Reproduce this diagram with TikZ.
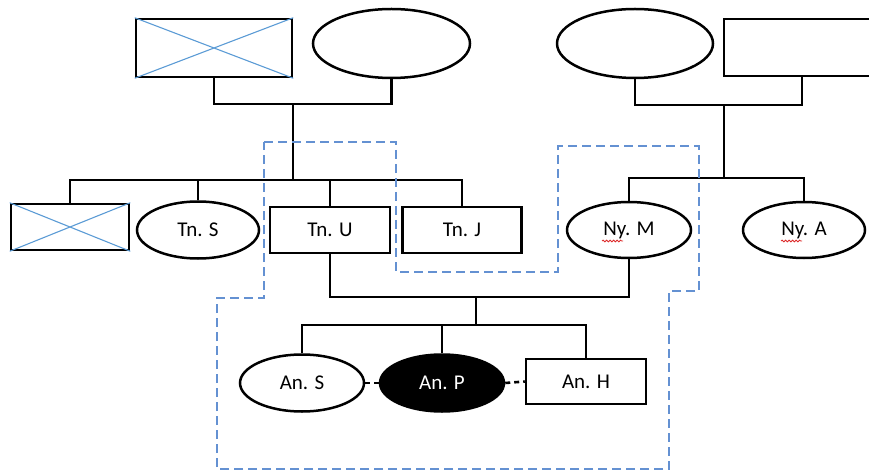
\documentclass[tikz,border=0pt]{standalone}
\usepackage{fontspec}
\setmainfont{Carlito}
\usetikzlibrary{shapes.geometric,calc,decorations.pathmorphing}
\definecolor{crossblue}{RGB}{91,155,213}
\definecolor{boundblue}{RGB}{100,145,210}
\definecolor{spellred}{RGB}{220,40,40}
\tikzset{
  person/.style={draw=black, line width=2.5pt, inner sep=0pt, font=\fontsize{21}{24}\selectfont, text=black},
  male/.style={person, rectangle},
  female/.style={person, ellipse},
  link/.style={draw=black, line width=2.6pt},
  twin/.style={draw=black, line width=2.6pt, dash pattern=on 5pt off 4pt},
  crossline/.style={draw=crossblue, line width=1.1pt},
  boundary/.style={draw=boundblue, line width=1.4pt, dash pattern=on 9pt off 5pt},
  spell/.style={draw=spellred, line width=0.8pt, decorate, decoration={snake, segment length=3.5pt, amplitude=0.9pt}}
}
\begin{document}
\begin{tikzpicture}[x=1pt, y=-1pt]
\useasboundingbox (0,0) rectangle (869,470);
\clip (0,0) rectangle (869,470);

% generation I
\node[male, minimum width=156pt, minimum height=58pt] (gf) at (214,48) {};
\node[female, minimum width=157pt, minimum height=69pt] (gm) at (391.5,43.5) {};
\node[female, minimum width=156pt, minimum height=69pt] (nm) at (635,43.5) {};
\node[male, minimum width=156pt, minimum height=57pt] (nf) at (802,47.5) {};
\draw[crossline] (gf.north west) -- (gf.south east) (gf.south west) -- (gf.north east);

% generation II
\node[male, minimum width=118pt, minimum height=46pt] (c1) at (70,227) {};
\draw[crossline] (c1.north west) -- (c1.south east) (c1.south west) -- (c1.north east);
\node[female, minimum width=122pt, minimum height=57pt] (TnS) at (198,230) {Tn. S};
\node[male, minimum width=120pt, minimum height=46pt] (TnU) at (330,230) {Tn. U};
\node[male, minimum width=119pt, minimum height=46pt] (TnJ) at (462,230) {Tn. J};
\node[female, minimum width=124pt, minimum height=56pt] (NyM) at (629,230) {Ny. M};
\node[female, minimum width=122pt, minimum height=56pt] (NyA) at (804,230) {Ny. A};

% generation III
\node[female, minimum width=124pt, minimum height=57pt] (AnS) at (302,383) {An. S};
\node[female, fill=black, text=white, minimum width=124pt, minimum height=57pt] (AnP) at (442,383) {An. P};
\node[male, minimum width=120pt, minimum height=45pt] (AnH) at (586,381.5) {An. H};

% marriage and sibling coordinates
\coordinate (m1) at (293,104);
\coordinate (s1) at (293,180);
\coordinate (m2) at (724,105);
\coordinate (s2) at (724,178);
\coordinate (m3) at (476,297);
\coordinate (s3) at (476,325);

% left family
\draw[link] (gf.south) |- (m1) -| (gm.south);
\draw[link] (m1) -- (s1);
\draw[link] (c1.north) -- (c1.north |- s1) -- (TnJ.north |- s1) -- (TnJ.north);
\draw[link] (TnS.north) -- (TnS.north |- s1);
\draw[link] (TnU.north) -- (TnU.north |- s1);

% right family
\draw[link] (nm.south) |- (m2) -| (nf.south);
\draw[link] (m2) -- (s2);
\draw[link] (NyM.north) -- (NyM.north |- s2) -- (NyA.north |- s2) -- (NyA.north);

% Tn. U x Ny. M
\draw[link] (TnU.south) |- (m3) -| (NyM.south);
\draw[link] (m3) -- (s3);
\draw[link] (AnS.north) -- (AnS.north |- s3) -- (AnH.north |- s3) -- (AnH.north);
\draw[link] (AnP.north) -- (AnP.north |- s3);

% dashed links between siblings
\draw[twin] (AnS.east) -- (AnP.west);
\draw[twin] (AnP.east) -- (AnH.west);

% household boundary
\draw[boundary] (264,142) -- (396,142) -- (396,272) -- (558,272) -- (558,146) -- (699,146) -- (699,291) -- (669,291) -- (669,469) -- (217,469) -- (217,298) -- (264,298) -- cycle;

% spell-check marks
\draw[spell] ($(NyM.center)+(-27,11)$) -- ($(NyM.center)+(-6,11)$);
\draw[spell] ($(NyA.center)+(-23,11)$) -- ($(NyA.center)+(-2,11)$);
\end{tikzpicture}
\end{document}
